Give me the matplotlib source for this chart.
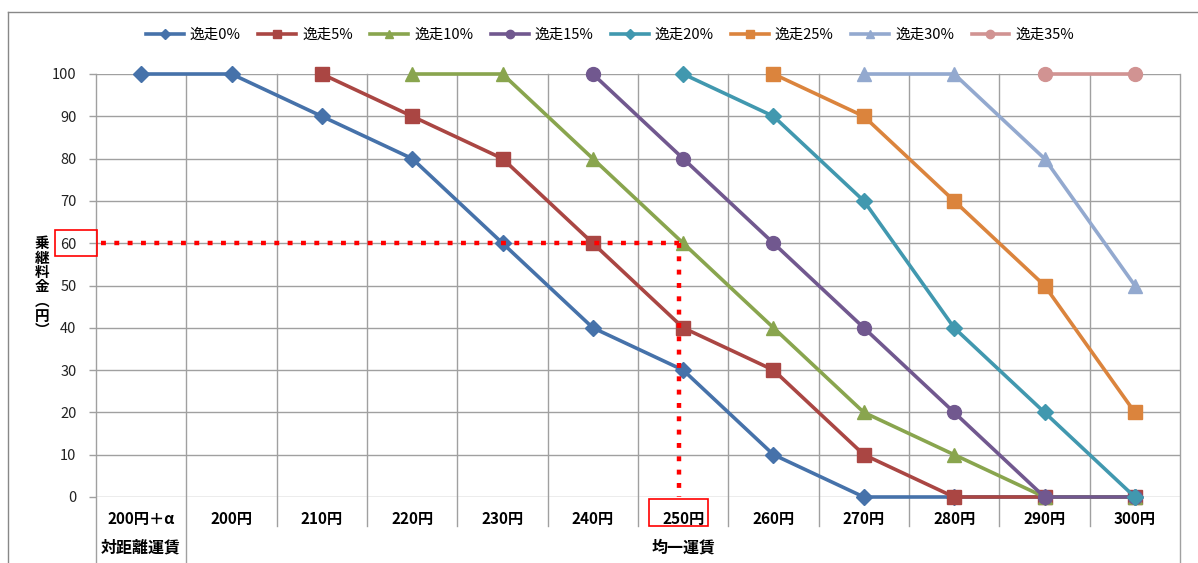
import matplotlib
matplotlib.use("Agg")
import matplotlib.pyplot as plt
from matplotlib.patches import Rectangle
from matplotlib.lines import Line2D
import matplotlib.transforms as mtransforms
import numpy as np

plt.rcParams['font.family'] = ['Noto Sans CJK JP', 'DejaVu Sans']

categories = ["200円＋α", "200円", "210円", "220円", "230円", "240円",
              "250円", "260円", "270円", "280円", "290円", "300円"]
group_labels = ["対距離運賃", "均一運賃"]
series_names = ["逸走0%", "逸走5%", "逸走10%", "逸走15%", "逸走20%", "逸走25%", "逸走30%", "逸走35%"]
N = None
s0 = [100, 100, 90, 80, 60, 40, 30, 10, 0, 0, 0, 0]
s5 = [N, N, 100, 90, 80, 60, 40, 30, 10, 0, 0, 0]
s10 = [N, N, N, 100, 100, 80, 60, 40, 20, 10, 0, 0]
s15 = [N, N, N, N, N, 100, 80, 60, 40, 20, 0, 0]
s20 = [N, N, N, N, N, N, 100, 90, 70, 40, 20, 0]
s25 = [N, N, N, N, N, N, N, 100, 90, 70, 50, 20]
s30 = [N, N, N, N, N, N, N, N, 100, 100, 80, 50]
s35 = [N, N, N, N, N, N, N, N, N, N, 100, 100]
series_values = [s0, s5, s10, s15, s20, s25, s30, s35]
colors = ["#4672AA", "#AA4643", "#89A54E", "#71588F", "#4198AF", "#DB843D", "#93A9CF", "#D19392"]
markers = ["D", "s", "^", "o", "D", "s", "^", "o"]
msizes = [8, 9.5, 10, 10, 8, 9.5, 10, 10]
yticks = [0, 10, 20, 30, 40, 50, 60, 70, 80, 90, 100]
ref_category = "250円"
ref_value = 60
ylabel_chars = ["乗", "継", "料", "金", "︵", "円", "︶"]

W, H = 1198, 563
fig = plt.figure(figsize=(W / 100, H / 100), dpi=100)
x0, x1, ytop, ybot = 96, 1180, 74, 497
ax = fig.add_axes([x0 / W, 1 - ybot / H, (x1 - x0) / W, (ybot - ytop) / H])

x = np.arange(len(categories))
ax.set_xlim(-0.5, len(categories) - 0.5)
ax.set_ylim(0, 100)

grid_c = "#A0A0A0"
for yv in yticks:
    ax.axhline(yv, color=grid_c, lw=1.0, zorder=1)
ax.set_yticks(yticks)
ax.set_yticklabels([str(v) for v in yticks], fontsize=10.5, color="#222222")
ax.tick_params(axis='y', length=5, width=1, color=grid_c, pad=9)
ax.set_xticks([])
for sp in ax.spines.values():
    sp.set_visible(False)

trans = mtransforms.blended_transform_factory(ax.transData, ax.transAxes)
low_inner = (ybot - 526) / (ybot - ytop)
low_outer = (ybot - H) / (ybot - ytop)
bounds = np.arange(len(categories) + 1) - 0.5
for i, b in enumerate(bounds):
    bottom = low_outer if i in (0, 1, len(bounds) - 1) else low_inner
    ax.add_line(Line2D([b, b], [1, bottom], transform=trans, color=grid_c, lw=1.0,
                       clip_on=False, zorder=1))

for name, vals, c, m, ms in zip(series_names, series_values, colors, markers, msizes):
    xs = [xi for xi, v in zip(x, vals) if v is not None]
    ys = [v for v in vals if v is not None]
    ax.plot(xs, ys, color=c, lw=2.6, marker=m, markersize=ms, markeredgecolor=c,
            label=name, zorder=3, clip_on=False)

# category labels
for xi, lab in zip(x, categories):
    ax.text(xi, (ybot - 519) / (ybot - ytop), lab, transform=trans, ha='center', va='center',
            fontsize=11, fontweight='bold')
yg = (ybot - 548) / (ybot - ytop)
ax.text(0, yg, group_labels[0], transform=trans, ha='center', va='center',
        fontsize=11.5, fontweight='bold')
ax.text((1 + len(categories) - 1) / 2, yg, group_labels[1], transform=trans, ha='center',
        va='center', fontsize=11.5, fontweight='bold')

# reference lines
rx = categories.index(ref_category)
ax.plot([-0.45, rx - 0.05], [ref_value, ref_value], color="#FF0000", lw=3.2,
        linestyle=(0, (1.1, 1.9)), zorder=5, clip_on=False)
ax.plot([rx - 0.05, rx - 0.05], [ref_value, 0], color="#FF0000", lw=3.2,
        linestyle=(0, (1.1, 1.9)), zorder=5, clip_on=False)

# red boxes
ax.add_patch(Rectangle((-41 / (x1 - x0), (ref_value - 3.1) / 100), 42 / (x1 - x0), 6.2 / 100,
                       transform=ax.transAxes, fill=False, edgecolor="#FF0000", lw=1.2,
                       clip_on=False, zorder=6))
ax.add_patch(Rectangle((rx - 0.38, (ybot - 526) / (ybot - ytop)), 0.66, 27 / (ybot - ytop),
                       transform=trans, fill=False, edgecolor="#FF0000", lw=1.2,
                       clip_on=False, zorder=6))

# y label stacked
for i, ch in enumerate(ylabel_chars):
    fig.text(42 / W, 1 - (243 + i * 14.5) / H, ch, ha='center', va='center',
             fontsize=10.5, fontweight='bold')

# legend
leg = fig.legend(loc='center', bbox_to_anchor=(610 / W, 1 - 35 / H), ncol=8, frameon=False,
                 fontsize=10.5, handlelength=2.6, handletextpad=0.4, columnspacing=1.2,
                 markerscale=0.6)

# outer frame
fig.add_artist(Line2D([8 / W, 8 / W], [0, 1 - 12 / H], transform=fig.transFigure,
                      color="#888888", lw=1.0))
fig.add_artist(Line2D([8 / W, 1], [1 - 12 / H, 1 - 12 / H], transform=fig.transFigure,
                      color="#888888", lw=1.0))

fig.savefig("out.png", dpi=100)
